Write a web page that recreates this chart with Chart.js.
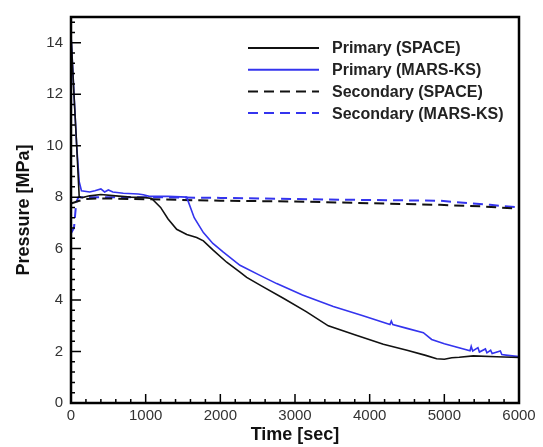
<!DOCTYPE html>
<html>
<head>
<meta charset="utf-8">
<script src="https://cdn.jsdelivr.net/npm/chart.js@4/dist/chart.umd.min.js"></script>
<style>
  html, body { margin: 0; padding: 0; background: #fff; }
  #wrap { width: 543px; height: 447px; position: relative; }
</style>
</head>
<body>
<div id="wrap"><canvas id="chart"></canvas></div>
<script>
'use strict';

// ── Pressure transient: primary / secondary, SPACE vs MARS-KS ────────────────

const primSpaceT = [0, 40, 76, 110, 150, 250, 400, 600, 800, 1000, 1080, 1200, 1300, 1415, 1550, 1683, 1773, 1900, 2085, 2263, 2353, 2550, 2844, 3150, 3446, 3800, 4183, 4500, 4750, 4897, 5000, 5100, 5200, 5388, 5700, 6000];
const primSpaceP = [14.3, 12.0, 10.0, 8.0, 7.98, 8.05, 8.1, 8.05, 8.0, 7.98, 7.95, 7.6, 7.15, 6.75, 6.55, 6.43, 6.3, 5.95, 5.47, 5.09, 4.88, 4.55, 4.07, 3.55, 3.0, 2.65, 2.28, 2.05, 1.85, 1.72, 1.7, 1.76, 1.78, 1.83, 1.8, 1.77];

const primMarsT = [0, 20, 40, 76, 110, 140, 250, 320, 400, 450, 500, 560, 700, 900, 969, 1050, 1300, 1549, 1650, 1773, 1900, 2040, 2263, 2531, 2755, 3100, 3513, 3900, 4272, 4290, 4310, 4500, 4719, 4830, 5000, 5344, 5360, 5380, 5450, 5470, 5550, 5570, 5620, 5640, 5750, 5770, 5850, 6000];
const primMarsP = [14.3, 13.2, 12.0, 10.0, 8.6, 8.25, 8.2, 8.25, 8.32, 8.2, 8.28, 8.2, 8.15, 8.12, 8.09, 8.03, 8.03, 8.0, 7.2, 6.62, 6.2, 5.86, 5.35, 4.96, 4.64, 4.2, 3.75, 3.4, 3.05, 3.18, 3.05, 2.9, 2.73, 2.47, 2.3, 2.03, 2.2, 2.02, 2.15, 1.98, 2.1, 1.95, 2.05, 1.92, 2.02, 1.88, 1.85, 1.8];

const secSpaceT = [0, 100, 200, 400, 1000, 2000, 3000, 3603, 4942, 5500, 6000];
const secSpaceP = [7.75, 7.85, 7.93, 7.95, 7.92, 7.86, 7.83, 7.79, 7.7, 7.64, 7.55];

const secMarsT = [0, 40, 70, 100, 200, 1000, 2000, 3603, 4942, 5612, 6000];
const secMarsP = [6.6, 6.8, 7.8, 8.0, 8.0, 8.0, 7.97, 7.9, 7.86, 7.7, 7.6];

const seriesNames = ['Primary (SPACE)', 'Primary (MARS-KS)', 'Secondary (SPACE)', 'Secondary (MARS-KS)'];
const xTicks = [0, 1000, 2000, 3000, 4000, 5000, 6000];
const yTicks = [0, 2, 4, 6, 8, 10, 12, 14];

const BLUE  = '#3434ee';
const BLACK = '#111111';
const FONT  = '"Liberation Sans", Arial, sans-serif';

const pts = (t, p) => t.map((v, i) => ({ x: v, y: p[i] }));

// inward major/minor ticks plus the closed frame
const framePlugin = {
  id: 'frame',
  afterDraw(chart) {
    const { ctx, chartArea: a, scales: { x, y } } = chart;
    ctx.save();
    ctx.strokeStyle = '#000';
    ctx.lineWidth = 1.5;
    ctx.beginPath();
    for (let v = 0; v <= 6000; v += 200) {
      const px = x.getPixelForValue(v);
      const len = v % 1000 === 0 ? 9 : 4;
      ctx.moveTo(px, a.bottom); ctx.lineTo(px, a.bottom - len);
    }
    for (let k = 0; k <= 37; k++) {
      const py = y.getPixelForValue(k * 0.4);
      const len = k % 5 === 0 ? 10 : 4;
      ctx.moveTo(a.left, py); ctx.lineTo(a.left + len, py);
    }
    ctx.stroke();
    ctx.lineWidth = 2.5;
    ctx.strokeRect(a.left, a.top, a.right - a.left, a.bottom - a.top);
    ctx.restore();
  },
};

// legend box in the upper right of the plot
const legendPlugin = {
  id: 'lineLegend',
  afterDraw(chart) {
    const { ctx } = chart;
    ctx.save();
    ctx.font = 'bold 16px ' + FONT;
    ctx.textBaseline = 'middle';
    chart.data.datasets.forEach((ds, i) => {
      const yy = 48 + i * 21.7;
      ctx.strokeStyle = ds.borderColor;
      ctx.lineWidth = 2;
      ctx.setLineDash(ds.borderDash || []);
      ctx.beginPath();
      ctx.moveTo(248, yy); ctx.lineTo(319, yy);
      ctx.stroke();
      ctx.setLineDash([]);
      ctx.fillStyle = '#222';
      ctx.fillText(ds.label, 332, yy + 1);
    });
    ctx.restore();
  },
};

new Chart(document.getElementById('chart'), {
  type: 'line',
  data: {
    datasets: [
      { label: seriesNames[0], data: pts(primSpaceT, primSpaceP), borderColor: BLACK, borderWidth: 1.6 },
      { label: seriesNames[1], data: pts(primMarsT, primMarsP), borderColor: BLUE, borderWidth: 1.6 },
      { label: seriesNames[2], data: pts(secSpaceT, secSpaceP), borderColor: BLACK, borderWidth: 2, borderDash: [10, 6] },
      { label: seriesNames[3], data: pts(secMarsT, secMarsP), borderColor: BLUE, borderWidth: 2, borderDash: [10, 6] },
    ],
  },
  options: {
    responsive: true, maintainAspectRatio: false, animation: false,
    layout: { padding: { top: 11, right: 24, left: 0, bottom: 0 } },
    elements: { point: { radius: 0 }, line: { tension: 0 } },
    plugins: { legend: { display: false }, tooltip: { enabled: false } },
    scales: {
      x: {
        type: 'linear', min: 0, max: 6000,
        afterFit: s => { s.height = 44; },
        afterBuildTicks: s => { s.ticks = xTicks.map(v => ({ value: v })); },
        ticks: { color: '#333', font: { family: FONT, size: 15 }, padding: 4, maxRotation: 0, callback: v => String(v) },
        grid: { drawOnChartArea: false, drawTicks: false },
        border: { display: false },
        title: { display: true, text: 'Time [sec]', color: '#111', font: { family: FONT, size: 18, weight: 'bold' }, padding: { top: 0, bottom: 1 } },
      },
      y: {
        min: 0, max: 15,
        afterFit: s => { s.width = 71; },
        afterBuildTicks: s => { s.ticks = yTicks.map(v => ({ value: v })); },
        ticks: { color: '#333', font: { family: FONT, size: 15 }, padding: 8, callback: v => String(v) },
        grid: { drawOnChartArea: false, drawTicks: false },
        border: { display: false },
        title: { display: true, text: 'Pressure [MPa]', color: '#111', font: { family: FONT, size: 18, weight: 'bold' }, padding: { top: 13, bottom: 0 } },
      },
    },
  },
  plugins: [framePlugin, legendPlugin],
});
</script>
</body>
</html>
